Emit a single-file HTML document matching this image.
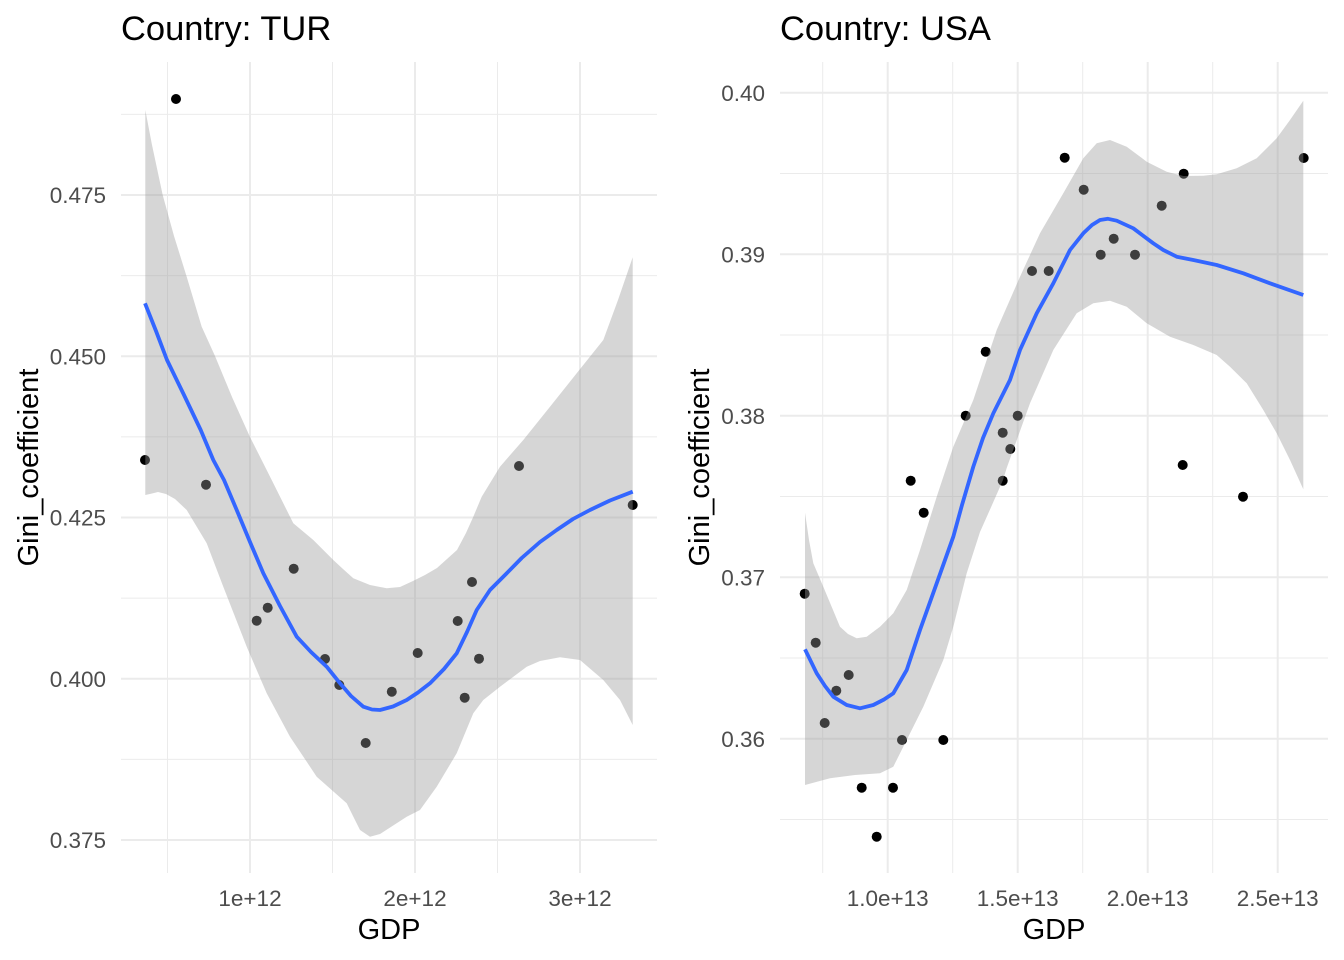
<!DOCTYPE html>
<html>
<head>
<meta charset="utf-8">
<style>
  html, body { margin:0; padding:0; background:#fff; }
  svg { display:block; }
  text { font-family: "Liberation Sans", Arial, sans-serif; }
</style>
</head>
<body>
<svg width="1344" height="960" viewBox="0 0 1344 960" xmlns="http://www.w3.org/2000/svg">
  <rect x="0" y="0" width="1344" height="960" fill="#ffffff"/>

  <!-- ============ LEFT PANEL (TUR) ============ -->
  <g stroke="#EBEBEB" fill="none">
    <g stroke-width="1">
      <line x1="121" x2="657" y1="114.4" y2="114.4"/>
      <line x1="121" x2="657" y1="275.6" y2="275.6"/>
      <line x1="121" x2="657" y1="436.9" y2="436.9"/>
      <line x1="121" x2="657" y1="598.1" y2="598.1"/>
      <line x1="121" x2="657" y1="759.4" y2="759.4"/>
      <line x1="167.5" x2="167.5" y1="62" y2="873"/>
      <line x1="332.5" x2="332.5" y1="62" y2="873"/>
      <line x1="497.5" x2="497.5" y1="62" y2="873"/>
    </g>
    <g stroke-width="2">
      <line x1="121" x2="657" y1="195" y2="195"/>
      <line x1="121" x2="657" y1="356.25" y2="356.25"/>
      <line x1="121" x2="657" y1="517.5" y2="517.5"/>
      <line x1="121" x2="657" y1="678.75" y2="678.75"/>
      <line x1="121" x2="657" y1="840" y2="840"/>
      <line x1="250" x2="250" y1="62" y2="873"/>
      <line x1="415" x2="415" y1="62" y2="873"/>
      <line x1="580" x2="580" y1="62" y2="873"/>
    </g>
  </g>

  <g fill="#000">
    <circle cx="145" cy="460" r="5"/>
    <circle cx="176" cy="99" r="5"/>
    <circle cx="206" cy="484.7" r="5"/>
    <circle cx="256.7" cy="620.7" r="5"/>
    <circle cx="267.7" cy="607.7" r="5"/>
    <circle cx="293.7" cy="568.7" r="5"/>
    <circle cx="325" cy="659" r="5"/>
    <circle cx="339.3" cy="685" r="5"/>
    <circle cx="365.7" cy="743" r="5"/>
    <circle cx="391.8" cy="691.7" r="5"/>
    <circle cx="417.7" cy="653" r="5"/>
    <circle cx="457.7" cy="621" r="5"/>
    <circle cx="464.7" cy="697.7" r="5"/>
    <circle cx="472" cy="582" r="5"/>
    <circle cx="479" cy="658.7" r="5"/>
    <circle cx="519" cy="466" r="5"/>
    <circle cx="632.7" cy="505" r="5"/>
  </g>

  <polygon fill="#999999" fill-opacity="0.4" points="
    145.3,110 152,145 162.7,195 174,236 186.7,276.7 201.7,326.7 215,356 232,397 250,437 271.7,480 293.3,523.3 313.3,540 333.3,560 343,569 353.3,578.3 370,585 386.7,588.3 400,587 413,581 425,575 437,568 447,559 457,550 466,533 473.3,516.7 481.7,496.7 500,466.7 523.3,440 550,406.7 576.7,373.3 603.3,340 618,300 632.7,257.3
    632.7,725 620,700 603.3,680 580,660 560,657.3 540,661 526.7,666.7 500,686.7 483.3,700 473.3,713.3 456.7,753.3 436.7,786.7 420,810 406.7,816.7 380,834 370,836.7 360,830 353,816 346.7,803.3 316.7,776.7 290,736.7 266.7,693.3 246.7,646.7 223.3,586.7 206.7,543.3 186.7,510 175,499 166,494 158,492 152,493.5 145.3,495"/>

  <polyline fill="none" stroke="#3366FF" stroke-width="3.8" stroke-linejoin="round" stroke-linecap="butt" points="
    145,303.3 156,331 167,360 184,395 200.7,430 213.3,460 224,480 236.7,510 250,542 263.3,573.3 280,606 296.7,636.7 311,652 326.7,666.7 340,683.3 351,696 363.3,706.7 372,709.5 380,710 393,706.5 406.7,700 418,692.5 430,683.3 444,669 456.7,653.3 467,632 476.7,610 490,590 506,574 521.7,558 540,542 556.7,530 573,519 590,510 610,500.5 632.7,491.7"/>

  <text x="121" y="40" font-size="34.5" fill="#000">Country: TUR</text>
  <g font-size="22.5" fill="#4D4D4D" text-anchor="end">
    <text x="106" y="203.2">0.475</text>
    <text x="106" y="364.4">0.450</text>
    <text x="106" y="525.7">0.425</text>
    <text x="106" y="686.9">0.400</text>
    <text x="106" y="848.2">0.375</text>
  </g>
  <g font-size="22.5" fill="#4D4D4D" text-anchor="middle">
    <text x="250" y="906">1e+12</text>
    <text x="415" y="906">2e+12</text>
    <text x="580" y="906">3e+12</text>
  </g>
  <text x="389" y="939" font-size="29" fill="#000" text-anchor="middle">GDP</text>
  <text transform="translate(38,467.5) rotate(-90)" font-size="29" fill="#000" text-anchor="middle">Gini_coefficient</text>

  <!-- ============ RIGHT PANEL (USA) ============ -->
  <g stroke="#EBEBEB" fill="none">
    <g stroke-width="1">
      <line x1="780" x2="1328" y1="173.5" y2="173.5"/>
      <line x1="780" x2="1328" y1="335" y2="335"/>
      <line x1="780" x2="1328" y1="496.5" y2="496.5"/>
      <line x1="780" x2="1328" y1="658" y2="658"/>
      <line x1="780" x2="1328" y1="819.5" y2="819.5"/>
      <line x1="822.7" x2="822.7" y1="62" y2="873"/>
      <line x1="952.7" x2="952.7" y1="62" y2="873"/>
      <line x1="1082.7" x2="1082.7" y1="62" y2="873"/>
      <line x1="1212.7" x2="1212.7" y1="62" y2="873"/>
    </g>
    <g stroke-width="2">
      <line x1="780" x2="1328" y1="92.7" y2="92.7"/>
      <line x1="780" x2="1328" y1="254.2" y2="254.2"/>
      <line x1="780" x2="1328" y1="415.7" y2="415.7"/>
      <line x1="780" x2="1328" y1="577.2" y2="577.2"/>
      <line x1="780" x2="1328" y1="738.7" y2="738.7"/>
      <line x1="887.7" x2="887.7" y1="62" y2="873"/>
      <line x1="1017.7" x2="1017.7" y1="62" y2="873"/>
      <line x1="1147.7" x2="1147.7" y1="62" y2="873"/>
      <line x1="1277.7" x2="1277.7" y1="62" y2="873"/>
    </g>
  </g>

  <g fill="#000">
    <circle cx="804.7" cy="593.7" r="5"/>
    <circle cx="815.7" cy="642.7" r="5"/>
    <circle cx="824.7" cy="723" r="5"/>
    <circle cx="836.3" cy="690.7" r="5"/>
    <circle cx="848.7" cy="675" r="5"/>
    <circle cx="861.7" cy="787.7" r="5"/>
    <circle cx="876.7" cy="836.7" r="5"/>
    <circle cx="893" cy="787.7" r="5"/>
    <circle cx="902" cy="740" r="5"/>
    <circle cx="910.7" cy="480.7" r="5"/>
    <circle cx="923.7" cy="512.7" r="5"/>
    <circle cx="943.3" cy="740" r="5"/>
    <circle cx="965.7" cy="415.7" r="5"/>
    <circle cx="985.7" cy="351.7" r="5"/>
    <circle cx="1002.7" cy="432.7" r="5"/>
    <circle cx="1002.7" cy="480.7" r="5"/>
    <circle cx="1010.3" cy="449" r="5"/>
    <circle cx="1017.7" cy="415.7" r="5"/>
    <circle cx="1032" cy="271" r="5"/>
    <circle cx="1048.7" cy="271" r="5"/>
    <circle cx="1064.7" cy="157.7" r="5"/>
    <circle cx="1083.7" cy="189.7" r="5"/>
    <circle cx="1100.7" cy="254.7" r="5"/>
    <circle cx="1113.7" cy="238.7" r="5"/>
    <circle cx="1135" cy="254.7" r="5"/>
    <circle cx="1161.7" cy="205.7" r="5"/>
    <circle cx="1183.7" cy="173.7" r="5"/>
    <circle cx="1182.7" cy="465" r="5"/>
    <circle cx="1243" cy="496.7" r="5"/>
    <circle cx="1303.7" cy="158" r="5"/>
  </g>

  <polygon fill="#999999" fill-opacity="0.4" points="
    805,512.7 809,540 813.3,563.3 823.3,586.7 840,626.7 848,634 856.7,638.3 866.7,636.7 880,626.7 893.3,613.3 906.7,590 920,550 936.7,496.7 953.3,446.7 973.3,400 996.7,330 1020,276.7 1040,233.3 1063.3,193.3 1083.3,158.3 1096.7,143.3 1110,140 1126.7,146.7 1146.7,161.7 1166.7,171.7 1183.3,176 1203.3,175.7 1216.7,174.3 1236.7,168.3 1256.7,158.3 1276.7,138.3 1290,120 1303.3,100.7
    1303.3,489.3 1290,460 1276.7,433.3 1263.3,410 1246.7,383.3 1230,366.7 1216.7,355 1193.3,345 1170,336.7 1146.7,323.3 1126.7,306.7 1110,300.7 1093.3,303.3 1076.7,313.3 1053.3,350 1030,403.3 1006.7,468 1003,480 992,505 980,532 966.7,573.3 953.3,626.7 943.3,660 923.3,706.7 906.7,740 893.3,766.7 880,773.3 855,775 830,778.3 805,785"/>

  <polyline fill="none" stroke="#3366FF" stroke-width="3.8" stroke-linejoin="round" stroke-linecap="butt" points="
    805,649.3 816.7,673.3 825,686 833.3,696.7 846.7,705 860,708.3 873.3,705 884,699.5 893.3,693.3 906.7,670 920,630 936.7,583.3 953.3,536.7 962,505 973.3,466.7 983,438 993.3,413.3 1010,380 1020,350 1036.7,313.3 1053.3,283.3 1070,250 1083.3,233.3 1092,225 1100,220 1108,218.8 1116.7,220.7 1133.3,228.3 1153.3,243.3 1163.3,250 1176.7,256.7 1193.3,260 1216.7,265 1243.3,273.3 1270,283.3 1303.3,295"/>

  <text x="780" y="40" font-size="34.5" fill="#000">Country: USA</text>
  <g font-size="22.5" fill="#4D4D4D" text-anchor="end">
    <text x="765" y="100.9">0.40</text>
    <text x="765" y="262.4">0.39</text>
    <text x="765" y="423.9">0.38</text>
    <text x="765" y="585.4">0.37</text>
    <text x="765" y="746.9">0.36</text>
  </g>
  <g font-size="22.5" fill="#4D4D4D" text-anchor="middle">
    <text x="887.7" y="906">1.0e+13</text>
    <text x="1017.7" y="906">1.5e+13</text>
    <text x="1147.7" y="906">2.0e+13</text>
    <text x="1277.7" y="906">2.5e+13</text>
  </g>
  <text x="1054" y="939" font-size="29" fill="#000" text-anchor="middle">GDP</text>
  <text transform="translate(709,467.5) rotate(-90)" font-size="29" fill="#000" text-anchor="middle">Gini_coefficient</text>
</svg>
</body>
</html>
